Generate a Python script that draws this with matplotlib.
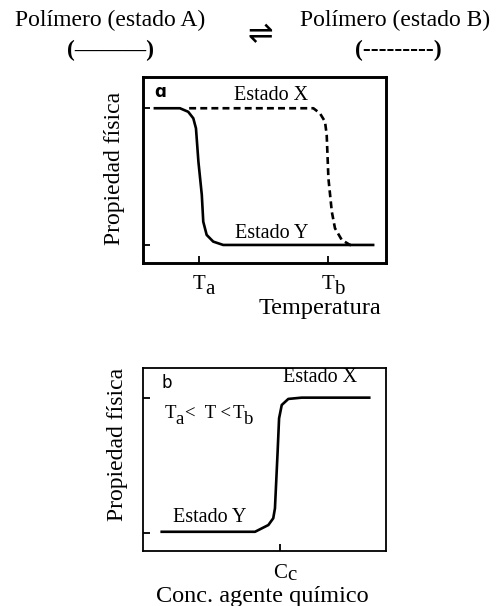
import matplotlib
matplotlib.use("Agg")
import matplotlib.pyplot as plt

plt.rcParams['font.family'] = ['Liberation Serif', 'DejaVu Serif']
plt.rcParams['lines.scale_dashes'] = False

# ---- data (arbitrary units 0-10) ----
# panel a: physical property vs temperature
a_state_A_x = [0.49, 1.52, 1.86, 2.07, 2.18, 2.28, 2.42, 2.48, 2.62, 2.89, 3.30, 9.47]
a_state_A_y = [8.32, 8.32, 8.13, 7.78, 7.24, 5.45, 3.66, 2.22, 1.51, 1.15, 0.97, 0.97]
a_state_B_x = [1.9, 7.01, 7.28, 7.49, 7.56, 7.63, 7.77, 7.90, 8.18, 8.52, 8.7]
a_state_B_y = [8.32, 8.32, 8.05, 7.60, 6.88, 4.55, 2.76, 1.87, 1.24, 0.97, 0.97]
a_xticks = [2.30, 7.61]
a_xticklabels = ['T', 'T']
a_xtick_subs = ['a', 'b']
a_yticks = [0.97, 8.32]

# panel b: physical property vs chemical agent concentration
b_x = [0.77, 4.61, 5.16, 5.36, 5.43, 5.54, 5.60, 5.71, 5.98, 6.53, 9.31]
b_y = [1.05, 1.05, 1.42, 1.79, 2.33, 5.43, 7.25, 7.98, 8.31, 8.38, 8.38]
b_xticks = [5.64]
b_xticklabels = ['C']
b_xtick_subs = ['c']
b_yticks = [0.98, 8.36]

fig = plt.figure(figsize=(5.0, 6.06), dpi=100)

# ---- header ----
fig.text(110/500, 1 - 20/606, 'Polímero (estado A)', ha='center', va='center', fontsize=17)
fig.text(110/500, 1 - 50/606, '(———)', ha='center', va='center', fontsize=17, fontweight='bold')
fig.text(260/500, 1 - 35/606, '⇌', ha='center', va='center', fontsize=22, family='DejaVu Sans')
fig.text(395/500, 1 - 20/606, 'Polímero (estado B)', ha='center', va='center', fontsize=17)
fig.text(398/500, 1 - 50/606, '(---------)', ha='center', va='center', fontsize=17, fontweight='bold')

# ---- panel a ----
axa = fig.add_axes([143/500, 1 - 263/606, 243/500, 186/606])
axa.plot(a_state_A_x, a_state_A_y, color='black', lw=1.9, solid_joinstyle='round')
axa.plot(a_state_B_x, a_state_B_y, color='black', lw=1.9, linestyle='--', dashes=(5, 3))
axa.set_xlim(0, 10)
axa.set_ylim(0, 10)
axa.set_xticks(a_xticks)
axa.set_xticklabels(a_xticklabels)
axa.set_yticks(a_yticks)
axa.set_yticklabels([])
axa.tick_params(direction='in', length=5, width=1.3, labelsize=15, pad=8.5)
for s in axa.spines.values():
    s.set_linewidth(2.1)
for xt, sub in zip(a_xticks, a_xtick_subs):
    axa.annotate(sub, xy=(xt, 0), xycoords=('data', 'axes fraction'),
                 xytext=(4.5, -22.5), textcoords='offset points',
                 ha='left', va='baseline', fontsize=15)
axa.set_ylabel('Propiedad física', fontsize=17)
axa.yaxis.set_label_coords(-0.074, 0.51)
axa.set_xlabel('Temperatura', fontsize=17.5)
axa.xaxis.set_label_coords(0.73, -0.19)
axa.text(0.70, 9.19, 'ɑ', family='DejaVu Sans', fontweight='bold', fontsize=12, ha='center', va='center')
axa.text(5.27, 8.76, 'Estado X', fontsize=14.5, ha='center', va='baseline')
axa.text(5.31, 1.34, 'Estado Y', fontsize=14.5, ha='center', va='baseline')

# ---- panel b ----
axb = fig.add_axes([143/500, 1 - 551/606, 243/500, 183/606])
axb.plot(b_x, b_y, color='black', lw=1.9, solid_joinstyle='round')
axb.set_xlim(0, 10)
axb.set_ylim(0, 10)
axb.set_xticks(b_xticks)
axb.set_xticklabels(b_xticklabels)
axb.set_yticks(b_yticks)
axb.set_yticklabels([])
axb.tick_params(direction='in', length=5, width=1.3, labelsize=15, pad=9)
for s in axb.spines.values():
    s.set_linewidth(1.3)
for xt, sub in zip(b_xticks, b_xtick_subs):
    axb.annotate(sub, xy=(xt, 0), xycoords=('data', 'axes fraction'),
                 xytext=(5.5, -21), textcoords='offset points',
                 ha='left', va='baseline', fontsize=15)
axb.set_ylabel('Propiedad física', fontsize=17)
axb.yaxis.set_label_coords(-0.062, 0.58)
axb.set_xlabel('Conc. agente químico', fontsize=17.5)
axb.xaxis.set_label_coords(0.49, -0.192)
axb.text(0.97, 9.16, 'b', family='DejaVu Sans', fontsize=12, ha='center', va='center')
axb.text(7.28, 9.23, 'Estado X', fontsize=14.5, ha='center', va='baseline')
axb.text(2.76, 1.60, 'Estado Y', fontsize=14.5, ha='center', va='baseline')
# "Ta < T < Tb" with full-size lowered subscripts
axb.text(0.91, 7.27, 'T', fontsize=13.5, ha='left', va='baseline')
axb.text(1.32, 6.94, 'a', fontsize=13.5, ha='left', va='baseline')
axb.text(1.73, 7.27, '<  T <', fontsize=13.5, ha='left', va='baseline')
axb.text(3.70, 7.27, 'T', fontsize=13.5, ha='left', va='baseline')
axb.text(4.14, 6.94, 'b', fontsize=13.5, ha='left', va='baseline')

fig.savefig('out.png', dpi=100)
